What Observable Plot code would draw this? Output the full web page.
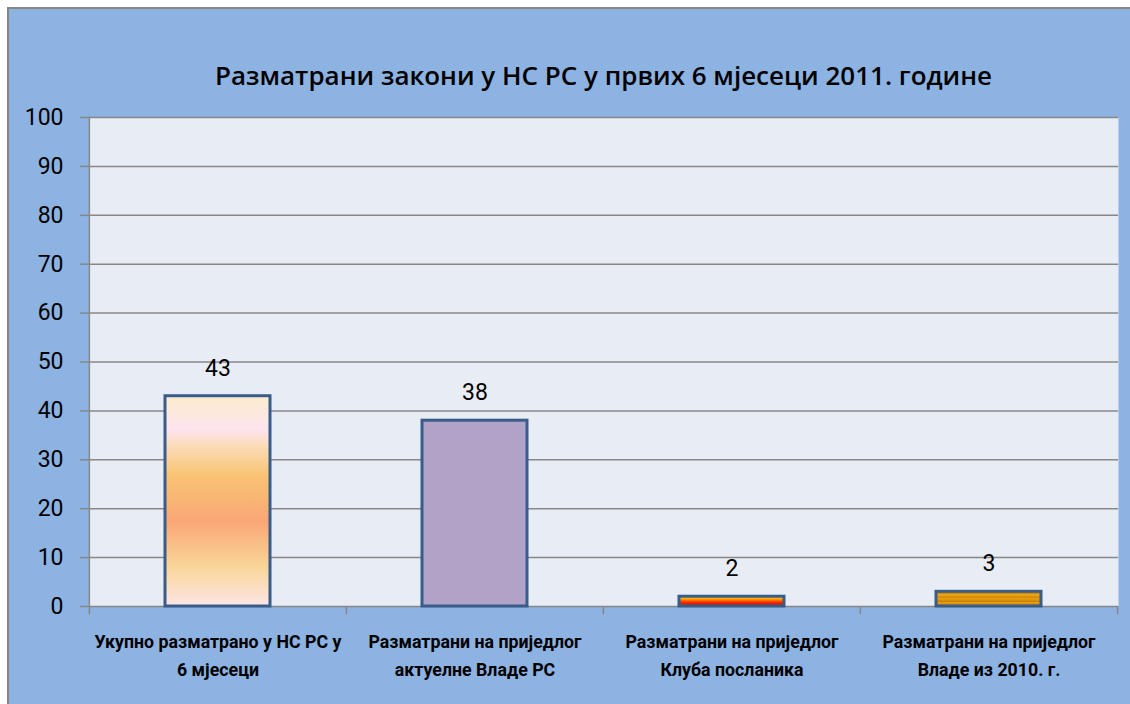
<!DOCTYPE html>
<html><head><meta charset="utf-8">
<script src="https://cdn.jsdelivr.net/npm/d3@7"></script>
<script src="https://cdn.jsdelivr.net/npm/@observablehq/plot@0.6"></script>
<style>
html,body{margin:0;padding:0;background:#fff;}
#wrap{position:relative;width:1130px;height:704px;overflow:hidden;background:#fff;}
#bg{position:absolute;left:7px;top:7px;width:1140px;height:710px;background:#8db3e2;border-top:2px solid #878787;border-left:2px solid #878787;}
#title{position:absolute;left:89px;width:1029px;top:57px;text-align:center;font:600 26px "Open Sans",sans-serif;color:#000;}
#chart{position:absolute;left:0;top:0;}
</style></head>
<body>
<div id="wrap"><div id="bg"></div><div id="title">Разматрани закони у НС РС у првих 6 мјесеци 2011. године</div><div id="chart"></div></div>
<script>
const categories = [
  "Укупно разматрано у НС РС у\n6 мјесеци",
  "Разматрани на приједлог\nактуелне Владе РС",
  "Разматрани на приједлог\nКлуба посланика",
  "Разматрани на приједлог\nВладе из 2010. г."
];
const values = [43, 38, 2, 3];
const yTicks = [0, 10, 20, 30, 40, 50, 60, 70, 80, 90, 100];

const barFills = ["url(#g1)", "#b1a2c7", "url(#g3)", "url(#g4)"];
const data = categories.map((c, i) => ({cat: c, value: values[i], fill: barFills[i]}));

const W = 1130, H = 704, ML = 89, MR = 12, MT = 117, MB = 98;
const step = (W - ML - MR) / categories.length;
const font = 'Roboto,"Noto Sans",sans-serif';
const gray = "#878787";

function defs() {
  const d = d3.create("svg:defs");
  const grad = (id, stops) => {
    const g = d.append("linearGradient").attr("id", id).attr("x1", 0).attr("y1", 0).attr("x2", 0).attr("y2", 1);
    stops.forEach(([o, c]) => g.append("stop").attr("offset", o).attr("stop-color", c));
  };
  grad("g1", [[0, "#fcecce"], [0.16, "#fde4ef"], [0.24, "#fbdcb8"], [0.38, "#f9c372"], [0.6, "#f9a776"], [0.81, "#f9d598"], [1, "#fee5e4"]]);
  grad("g3", [[0, "#ffd21a"], [0.3, "#ffa000"], [0.6, "#ff3000"], [1, "#c80000"]]);
  grad("g4", [[0, "#f2a80f"], [0.18, "#c98509"], [0.22, "#f3a712"], [0.42, "#cf8a0a"], [0.47, "#efa10e"], [0.7, "#c68108"], [0.75, "#eea210"], [1, "#b87605"]]);
  return d.node();
}

const labelOpts = {x: "cat", frameAnchor: "bottom", fontSize: 19, fontWeight: "bold", fontFamily: font, fill: "#000"};

const chart = Plot.plot({
  width: W, height: H,
  marginLeft: ML, marginRight: MR, marginTop: MT, marginBottom: MB,
  style: {background: "transparent", overflow: "visible", color: "#000"},
  x: {domain: categories, paddingInner: 0.59, paddingOuter: 0.295, axis: null},
  y: {domain: [0, 100], axis: null},
  color: {type: "identity"},
  marks: [
    defs,
    Plot.frame({fill: "#e8edf5", stroke: null}),
    Plot.ruleY(yTicks, {stroke: gray, strokeWidth: 1.5}),
    Plot.axisY(yTicks, {tickSize: 9, tickPadding: 17, fontSize: 23, fontFamily: font, stroke: gray, fill: "#000", strokeWidth: 1.5, label: null}),
    Plot.ruleX([categories[0]], {dx: -step / 2, y1: 0, y2: 100, stroke: gray, strokeWidth: 1.5}),
    Plot.ruleX(categories, {dx: -step / 2, y1: 0, y2: -1.7, stroke: gray, strokeWidth: 1.5}),
    Plot.ruleX([categories[categories.length - 1]], {dx: step / 2, y1: 0, y2: -1.7, stroke: gray, strokeWidth: 1.5}),
    Plot.barY(data, {x: "cat", y: "value", fill: "fill", stroke: "#385d8a", strokeWidth: 3}),
    Plot.text(data, {x: "cat", y: "value", text: d => String(d.value), dy: -28, fontSize: 23, fontFamily: font, fill: "#000"}),
    Plot.text(data, {...labelOpts, text: d => d.cat.split("\n")[0], dy: 41}),
    Plot.text(data, {...labelOpts, text: d => d.cat.split("\n")[1], dy: 69})
  ]
});
document.getElementById("chart").appendChild(chart);

// condense category labels horizontally (the reference uses a narrow face)
const groups = chart.querySelectorAll('g[aria-label="text"]');
const labelTexts = [...groups[1].querySelectorAll("text"), ...groups[2].querySelectorAll("text")];
const refLine = labelTexts.find(t => t.textContent === "Разматрани на приједлог");
const f = refLine ? Math.min(1, 213 / refLine.getComputedTextLength()) : 0.9;
labelTexts.forEach(t => {
  const L = t.getComputedTextLength();
  t.setAttribute("lengthAdjust", "spacingAndGlyphs");
  t.setAttribute("textLength", (L * f).toFixed(1));
});
</script>
</body></html>
